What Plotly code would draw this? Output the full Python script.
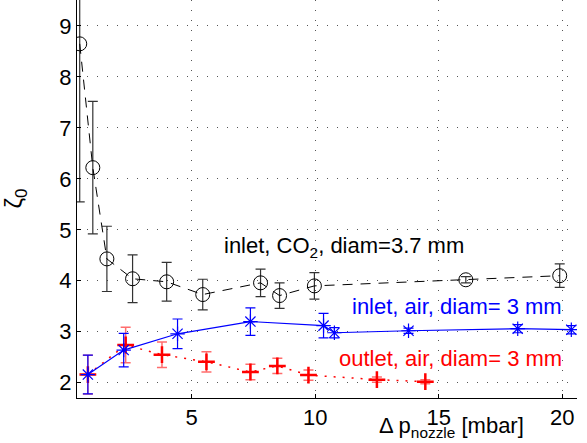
import plotly.graph_objects as go

# CO2 inlet, diam 3.7 mm
co2_x = [0.47, 1.0, 1.57, 2.61, 3.99, 5.45, 7.79, 8.56, 9.97, 16.1, 19.9]
co2_y = [8.65, 6.22, 4.43, 4.04, 3.98, 3.73, 3.96, 3.71, 3.90, 4.02, 4.10]
co2_e = [3.1, 1.3, 0.64, 0.47, 0.38, 0.30, 0.27, 0.25, 0.26, 0.06, 0.23]

# air inlet, diam 3 mm
ain_x = [0.8, 2.25, 4.43, 7.38, 10.34, 10.78, 13.78, 18.2, 20.37]
ain_y = [2.16, 2.64, 2.96, 3.20, 3.12, 2.98, 3.02, 3.06, 3.04]
ain_e = [0.38, 0.33, 0.29, 0.27, 0.24, 0.10, 0.05, 0.08, 0.08]

# air outlet, diam 3 mm
aout_x = [0.8, 2.33, 3.80, 5.60, 7.38, 8.47, 9.73, 12.5, 14.46]
aout_y = [2.16, 2.74, 2.55, 2.41, 2.21, 2.33, 2.15, 2.06, 2.02]
aout_e = [0.38, 0.35, 0.25, 0.20, 0.15, 0.15, 0.10, 0.05, 0.04]

x_ticks = [5, 10, 15, 20]
y_ticks = [2, 3, 4, 5, 6, 7, 8, 9]

FONT = "Liberation Sans, Arial, sans-serif"

fig = go.Figure()
fig.add_trace(go.Scatter(
    x=aout_x, y=aout_y, mode="lines+markers",
    line=dict(color="red", width=1.5, dash="2px,7px"),
    marker=dict(symbol="cross-thin-open", size=12, line=dict(color="red", width=2.5)),
    error_y=dict(type="data", array=aout_e, color="rgba(255,60,60,0.75)", thickness=1.5, width=5),
))
fig.add_trace(go.Scatter(
    x=ain_x, y=ain_y, mode="lines+markers",
    line=dict(color="blue", width=1.2),
    marker=dict(symbol="asterisk-open", size=12, line=dict(color="blue", width=1.2)),
    error_y=dict(type="data", array=ain_e, color="blue", thickness=1.2, width=5),
))
fig.add_trace(go.Scatter(
    x=co2_x, y=co2_y, mode="lines+markers",
    line=dict(color="black", width=1, dash="10px,8px"),
    marker=dict(symbol="circle-open", size=14, line=dict(color="black", width=1)),
    error_y=dict(type="data", array=co2_e, color="#333333", thickness=1.2, width=5),
))

ANN = 22
fig.add_annotation(x=0.534, y=4.67, xref="paper", yref="y", xanchor="center",
                   text="inlet, CO<sub>2</sub>, diam=3.7 mm",
                   showarrow=False, font=dict(family=FONT, size=ANN, color="black"))
fig.add_annotation(x=0.76, y=3.49, xref="paper", yref="y", xanchor="center",
                   text="inlet, air, diam= 3 mm",
                   showarrow=False, font=dict(family=FONT, size=ANN, color="blue"))
fig.add_annotation(x=0.746, y=2.47, xref="paper", yref="y", xanchor="center",
                   text="outlet, air, diam= 3 mm",
                   showarrow=False, font=dict(family=FONT, size=ANN, color="red"))
fig.add_annotation(x=0.898, y=-0.113, xref="paper", yref="paper", yanchor="bottom", xanchor="right",
                   text="Δ p<sub>nozzle</sub> [mbar]",
                   showarrow=False, font=dict(family=FONT, size=22, color="black"))
fig.add_annotation(x=-0.125, y=0.50, xref="paper", yref="paper", textangle=-90,
                   xanchor="center", yanchor="middle",
                   text="ζ<sub>0</sub>", showarrow=False,
                   font=dict(family=FONT, size=24, color="black"))

fig.update_layout(
    width=587, height=443,
    margin=dict(l=77, r=10, t=0, b=45),
    paper_bgcolor="white", plot_bgcolor="white",
    showlegend=False,
    font=dict(family=FONT, size=22, color="black"),
)
axis_common = dict(
    ticks="inside", ticklen=4, tickcolor="black",
    showline=True, linecolor="black", linewidth=1, mirror=False,
    showgrid=True, gridcolor="#555555", griddash="1px,9px", gridwidth=1, zeroline=False,
    tickfont=dict(family=FONT, size=22),
)
fig.update_xaxes(range=[0.36, 20.6], tickvals=x_ticks, **axis_common)
fig.update_yaxes(range=[1.7, 9.51], tickvals=y_ticks, **axis_common)

fig.write_html("out.html")
